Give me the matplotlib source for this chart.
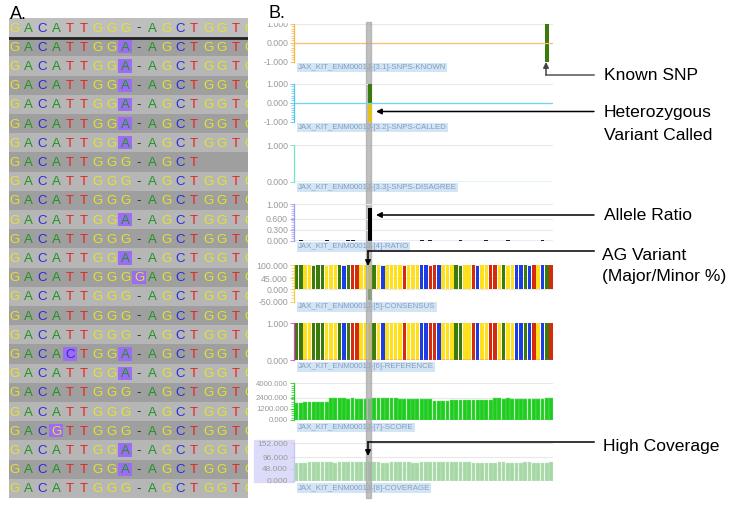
import numpy as np
import matplotlib.pyplot as plt
from matplotlib.patches import Rectangle
from matplotlib.ticker import MultipleLocator, FormatStrFormatter

plt.rcParams['font.family'] = ['Liberation Sans', 'DejaVu Sans']

# ---------------- panel A: read alignment ----------------
align_rows = [
    "GACATTGGG-AGCTGGTG",   # reference / header row
    "GACATTGGA-AGCTGGTG",
    "GACATTGGA-AGCTGGTG",
    "GACATTGGA-AGCTGGTG",
    "GACATTGGA-AGCTGGTG",
    "GACATTGGA-AGCTGGTG",
    "GACATTGGA-AGCTGGTG",
    "GACATTGGG-AGCT",
    "GACATTGGG-AGCTGGTG",
    "GACATTGGG-AGCTGGTG",
    "GACATTGGA-AGCTGGTG",
    "GACATTGGG-AGCTGGTG",
    "GACATTGGA-AGCTGGTG",
    "GACATTGGGGAGCTGGTG",
    "GACATTGGG-AGCTGGTG",
    "GACATTGGG-AGCTGGTG",
    "GACATTGGG-AGCTGGTG",
    "GACACTGGA-AGCTGGTG",
    "GACATTGGA-AGCTGGTG",
    "GACATTGGG-AGCTGGTG",
    "GACATTGGG-AGCTGGTG",
    "GACGTTGGG-AGCTGGTG",
    "GACATTGGA-AGCTGGTG",
    "GACATTGGA-AGCTGGTG",
    "GACATTGGG-AGCTGGTG",
]
letter_colors = {'G': '#e4e42c', 'A': '#1f951f', 'C': '#2b2bd4', 'T': '#e82020', '-': '#2a2a2a'}

# ---------------- panel B: genome browser tracks ----------------
ref_seq = "AAGGAAAGGGACATTGG" + "G" + "AGCGGGGTGGGCCTT" + "CGGGAAGGTCGGTTGAGGCCACTGCAT"
cons_pct = [100, 100, 100, 100, 97, 100, 100, 97, 100, 100,
            100, 96, 100, 100, 100, 100, 100, 100, 100, 100,
            97, 100, 100, 100, 100, 96, 100, 100, 100, 100,
            100, 97, 100, 100, 100, 100, 100, 100, 96, 100,
            100, 100, 97, 100, 100, 100, 100, 100, 100, 97,
            100, 100, 100, 100, 96, 100, 100, 100, 100, 100]
variant_pos = 17
variant_minor_pct = -45
known_snp_pos = [58]
called_pos = [17]
ratio_pos = [1, 7, 12, 13, 17, 29, 31, 38, 44, 49, 57]
ratio_val = [0.02, 0.02, 0.02, 0.02, 0.88, 0.02, 0.02, 0.02, 0.02, 0.02, 0.02]
score = [1800, 1820, 1950, 1960, 1950, 1970, 1980, 1990, 2380, 2400,
         2400, 2380, 2300, 2350, 2300, 2320, 2280, 2300, 2380, 2400,
         2400, 2390, 2380, 2400, 2330, 2300, 2320, 2300, 2310, 2330,
         2300, 2310, 2050, 2040, 2050, 2060, 2200, 2210, 2200, 2220,
         2200, 2210, 2230, 2200, 2210, 2200, 2350, 2360, 2340, 2350,
         2250, 2270, 2260, 2250, 2280, 2260, 2270, 2260, 2400, 2410]
coverage = [72, 72, 73, 74, 75, 76, 75, 75, 74, 73,
            74, 75, 76, 76, 75, 74, 75, 76, 75, 74,
            73, 73, 74, 74, 75, 75, 74, 73, 73, 74,
            74, 75, 77, 77, 76, 75, 74, 75, 76, 75,
            74, 73, 73, 72, 72, 73, 73, 74, 74, 73,
            72, 72, 73, 74, 74, 73, 73, 72, 72, 74]
track_labels = ["JAX_KIT_ENM0001J-[3.1]-SNPS-KNOWN", "JAX_KIT_ENM0001J-[3.2]-SNPS-CALLED",
                "JAX_KIT_ENM0001J-[3.3]-SNPS-DISAGREE", "JAX_KIT_ENM0001J-[4]-RATIO",
                "JAX_KIT_ENM0001J-[5]-CONSENSUS", "JAX_KIT_ENM0001J-[6]-REFERENCE",
                "JAX_KIT_ENM0001J-[7]-SCORE", "JAX_KIT_ENM0001J-[8]-COVERAGE"]
bar_colors = {'A': '#3b7a0c', 'G': '#ffe01c', 'C': '#1c3ce4', 'T': '#d62a0e'}

W, H = 734, 511
fig = plt.figure(figsize=(W / 100, H / 100), dpi=100)


def px_rect(x0, y0, x1, y1):
    return [x0 / W, 1 - y1 / H, (x1 - x0) / W, (y1 - y0) / H]


# ---- panel A ----
axA = fig.add_axes(px_rect(9, 18, 248, 498))
axA.set_xlim(-0.43, 16.9)
axA.set_ylim(len(align_rows), 0)
axA.axis('off')
header = align_rows[0]
for k, row in enumerate(align_rows):
    if k == 0:
        bg = '#bebebe'
    elif k % 2 == 1:
        bg = '#9f9f9f'
    else:
        bg = '#b6b6b6'
    axA.add_patch(Rectangle((-0.43, k), 17.4, 1, color=bg, lw=0))
    for c, ch in enumerate(row):
        if k > 0 and ch != header[c]:
            axA.add_patch(Rectangle((c - 0.5, k + 0.16), 1.0, 0.68, color='#9d6cf4', lw=0))
        axA.text(c, k + 0.55, ch, ha='center', va='center', fontsize=9.5,
                 color=letter_colors[ch], clip_on=True)
axA.axhline(1.05, color='#222222', lw=2)

# ---- panel B tracks ----
n = len(ref_seq)
xs = np.arange(n) + 0.5
TL, TR = 294.3, 553.3


def track(top, bot, ylim, ticks, color, minor=None, z=0, fs=6.3):
    ax = fig.add_axes(px_rect(TL, top, TR, bot), zorder=z)
    ax.set_xlim(0, n)
    ax.set_ylim(*ylim)
    for s in ['top', 'right', 'bottom']:
        ax.spines[s].set_visible(False)
    ax.spines['left'].set_color(color)
    ax.spines['left'].set_linewidth(0.9)
    ax.set_xticks([])
    ax.set_yticks(ticks)
    ax.yaxis.set_major_formatter(FormatStrFormatter('%.3f'))
    ax.tick_params(axis='y', labelsize=fs, labelcolor='#9a9a9a', color=color,
                   length=3, width=0.6, pad=1.5)
    if minor:
        ax.yaxis.set_minor_locator(MultipleLocator(minor))
        ax.tick_params(axis='y', which='minor', color=color, length=2.5, width=0.5)
    ax.yaxis.grid(True, color='#e8e8e8', lw=0.8)
    ax.set_axisbelow(True)
    if z:
        ax.patch.set_alpha(0)
    return ax


ax1 = track(24, 61.7, (-1, 1), [-1, 0, 1], '#f5b547', 0.125)
ax1.axhline(0, color='#f5c070', lw=0.9)
ax1.bar(xs[known_snp_pos], 2, bottom=-1, width=0.9, color=bar_colors['A'])

# SNP-called and ratio bars sit above the highlight band
ax2 = track(84, 121.7, (-1, 1), [-1, 0, 1], '#4cc8f0', 0.125, z=11)
ax2.axhline(0, color='#6fd4f2', lw=0.9)
ax2.bar(xs[called_pos], 1, width=0.9, color=bar_colors['A'])
ax2.bar(xs[called_pos], -1, width=0.9, color='#e2c21a')

ax3 = track(145, 181.7, (0, 1), [0, 1], '#6ee6c2')
ax3.axhline(0, color='#6ee6c2', lw=1.0)

ax4 = track(204, 240.7, (0, 1), [0, 0.3, 0.6, 1], '#9c9cf2', 0.0625, z=11)
ax4.axhline(0, color='#9c9cf2', lw=1.0)
ax4.bar(xs[ratio_pos], ratio_val, width=0.9, color='black')

ax5 = track(265, 301.5, (-50, 100), [-50, 0, 45, 100], '#f5cc4a', 12.5)
ax5.bar(xs, cons_pct, width=0.8, color=[bar_colors[b] for b in ref_seq])
ax5.bar(xs[variant_pos], variant_minor_pct, width=0.8, color=bar_colors['A'])

ax6 = track(323.3, 360, (0, 1), [0, 1], '#e040d4')
ax6.bar(xs, np.ones(n), width=0.8, color=[bar_colors[b] for b in ref_seq])
ax6.axhline(0, color='#e040d4', lw=1.0)

ax7 = track(383.3, 420, (0, 4000), [0, 1200, 2400, 4000], '#22cc22', 250, fs=5.6)
ax7.bar(xs, score, width=0.88, color='#1fcc1f', edgecolor='#6ee26e', lw=0.3)
ax7.axhline(0, color='#22cc22', lw=1.0)

ax8 = track(443.3, 480.7, (0, 152), [0, 48, 96, 152], '#c6c6f2', fs=6.0)
ax8.bar(xs, coverage, width=0.85, color='#a6d8a6', edgecolor='#c8e8c8', lw=0.3)
ax8.axhline(0, color='#c8c8c8', lw=0.8)
fig.add_artist(Rectangle((254 / W, 1 - 482 / H), 40 / W, 42 / H, color='#dcdcfa',
                         transform=fig.transFigure, zorder=-1))

# ---- overlay in pixel coordinates ----
ov = fig.add_axes([0, 0, 1, 1], zorder=10)
ov.set_xlim(0, W)
ov.set_ylim(H, 0)
ov.axis('off')
ov.patch.set_alpha(0)

ov.add_patch(Rectangle((250, 0), 310, 22, color='white', zorder=2))
ov.text(10, 19, "A.", fontsize=13, va='baseline', zorder=5)
ov.text(268, 18, "B.", fontsize=13, va='baseline', zorder=5)

label_y = [67.5, 127.5, 187.5, 247, 307, 367, 427.5, 488]
for lab, y in zip(track_labels, label_y):
    ov.text(298, y, lab, fontsize=5.7, color='#819fc0', va='center', zorder=1,
            bbox=dict(facecolor='#d3e4f5', edgecolor='none', pad=0.8))

# highlighted variant column
bx = TL + variant_pos * (TR - TL) / n - 1.5
ov.add_patch(Rectangle((bx, 22), 4.6, 476, color='#a8a8a8', alpha=0.72, zorder=2))

arw = dict(arrowstyle='-|>', color='black', lw=1.1, mutation_scale=8, shrinkA=0, shrinkB=0)
# Known SNP
ov.plot([594, 546], [75, 75], color='#555555', lw=1.1, zorder=3)
ov.annotate('', xy=(546, 62), xytext=(546, 75), arrowprops=dict(arw, color='#444444'), zorder=3)
# Heterozygous / Allele ratio
ov.annotate('', xy=(376, 111.5), xytext=(594, 111.5), arrowprops=arw, zorder=3)
ov.annotate('', xy=(376, 215), xytext=(594, 215), arrowprops=arw, zorder=3)
# AG variant and coverage
ov.plot([594, 368], [251, 251], color='black', lw=1.1, zorder=3)
ov.annotate('', xy=(368, 266), xytext=(368, 251), arrowprops=arw, zorder=3)
ov.plot([594, 368], [442, 442], color='black', lw=1.1, zorder=3)
ov.annotate('', xy=(368, 456), xytext=(368, 442), arrowprops=arw, zorder=3)

notes = [(604, 79.5, "Known SNP"), (604, 117, "Heterozygous"), (604, 140, "Variant Called"),
         (604, 220.5, "Allele Ratio"), (602, 260.5, "AG Variant"), (602, 281, "(Major/Minor %)"),
         (603, 451.5, "High Coverage")]
for x, y, s in notes:
    ov.text(x, y, s, fontsize=12.6, va='baseline', zorder=5)

fig.savefig('out.png', dpi=100)
